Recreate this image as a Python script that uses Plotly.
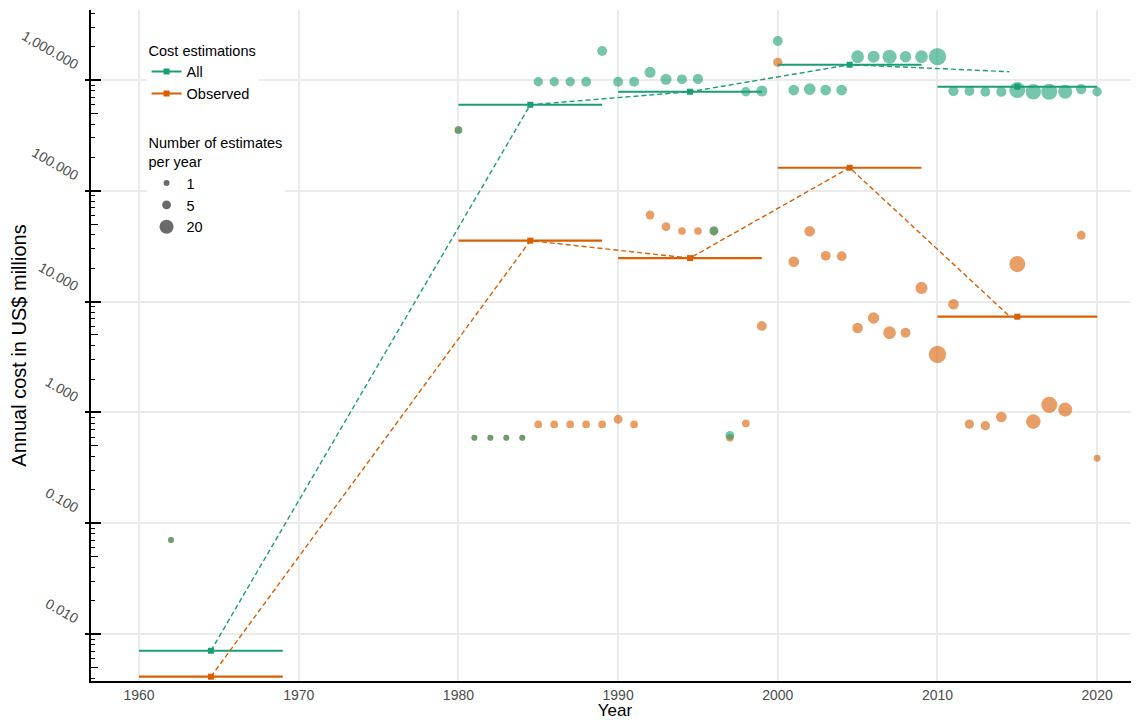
import numpy as np
import plotly.graph_objects as go

TEAL = "#1b9e77"
ORANGE = "#d95f02"
FONT = "Liberation Sans, Arial, sans-serif"

# ---- individual yearly estimates: All ----
all_years = [1962, 1980, 1981, 1982, 1983, 1984, 1985, 1986, 1987, 1988, 1989,
             1990, 1991, 1992, 1993, 1994, 1995, 1996, 1997, 1998, 1999,
             2000, 2001, 2002, 2003, 2004, 2005, 2006, 2007, 2008, 2009, 2010,
             2011, 2012, 2013, 2014, 2015, 2016, 2017, 2018, 2019, 2020]
all_cost = [0.0705, 354, 0.59, 0.59, 0.59, 0.59, 965, 965, 965, 965, 1828,
            965, 965, 1174, 1015, 1015, 1023, 43.4, 0.62, 784, 796,
            2250, 812, 829, 812, 812, 1623, 1623, 1623, 1623, 1623, 1623,
            796, 796, 784, 784, 812, 784, 784, 784, 829, 784]
all_n = [1, 3, 1, 1, 1, 1, 6, 6, 6, 7, 7,
         7, 7, 10, 10, 7, 8, 5, 5, 6, 10,
         7, 9, 12, 9, 9, 15, 13, 20, 11, 15, 34,
         8, 7, 7, 8, 28, 25, 28, 20, 8, 6]

# ---- individual yearly estimates: Observed ----
obs_years = [1962, 1980, 1981, 1982, 1983, 1984, 1985, 1986, 1987, 1988, 1989,
             1990, 1991, 1992, 1993, 1994, 1995, 1996, 1997, 1998, 1999,
             2000, 2001, 2002, 2003, 2004, 2005, 2006, 2007, 2008, 2009, 2010,
             2011, 2012, 2013, 2014, 2015, 2016, 2017, 2018, 2019, 2020]
obs_cost = [0.0705, 354, 0.59, 0.59, 0.59, 0.59, 0.78, 0.78, 0.78, 0.78, 0.78,
            0.867, 0.78, 60.5, 47.5, 43.4, 43.4, 43.4, 0.59, 0.796, 6.03,
            1445, 22.9, 43.2, 25.9, 25.7, 5.78, 7.11, 5.24, 5.24, 13.3, 3.34,
            9.46, 0.785, 0.758, 0.909, 21.8, 0.826, 1.17, 1.06, 39.7, 0.386]
obs_n = [1, 3, 1, 1, 1, 1, 3, 3, 3, 3, 3,
         5, 3, 5, 5, 3, 3, 5, 3, 3, 7,
         6, 9, 9, 7, 7, 9, 11, 15, 7, 13, 34,
         9, 6, 6, 9, 28, 22, 28, 20, 5, 2]

# ---- decade means ----
decade_start = [1960, 1980, 1990, 2000, 2010]
decade_end = [1969, 1989, 1999, 2009, 2020]
all_mean = [0.00706, 598, 784, 1374, 870]
obs_mean = [0.00412, 35.5, 24.7, 161.6, 7.31]

# ---- trend (dashed) ----
trend_years = [1964.5, 1984.5, 1994.5, 2004.5, 2014.5]
all_trend = [0.00706, 598, 784, 1374, 1189]
obs_trend = [0.00412, 35.5, 24.7, 161.6, 7.4]

# ---- axis ticks ----
year_ticks = [1960, 1970, 1980, 1990, 2000, 2010, 2020]
cost_ticks = [0.01, 0.1, 1, 10, 100, 1000]
cost_labels = ["0.010", "0.100", "1.000", "10.000", "100.000", "1,000.000"]
legend_n = [1, 5, 20]


def size_px(n):
    return 3.6 + 2.35 * np.sqrt(np.asarray(n, dtype=float))


def segments(starts, ends, vals):
    xs, ys = [], []
    for s, e, v in zip(starts, ends, vals):
        xs += [s, e, None]
        ys += [v, v, None]
    return xs, ys


fig = go.Figure()

# points (orange first, teal on top)
fig.add_trace(go.Scatter(x=obs_years, y=obs_cost, mode="markers", showlegend=False,
                         marker=dict(color=ORANGE, opacity=0.6, size=size_px(obs_n), line=dict(width=0)),
                         hoverinfo="skip"))
fig.add_trace(go.Scatter(x=all_years, y=all_cost, mode="markers", showlegend=False,
                         marker=dict(color=TEAL, opacity=0.6, size=size_px(all_n), line=dict(width=0)),
                         hoverinfo="skip"))

# decade mean segments
for vals, col in ((all_mean, TEAL), (obs_mean, ORANGE)):
    sx, sy = segments(decade_start, decade_end, vals)
    fig.add_trace(go.Scatter(x=sx, y=sy, mode="lines", showlegend=False,
                             line=dict(color=col, width=2.2), hoverinfo="skip"))

# dashed trends + squares (on overlaying axis y2, same scale)
mid = [(s + e) / 2 for s, e in zip(decade_start, decade_end)]
for vals, mvals, col in ((all_trend, all_mean, TEAL), (obs_trend, obs_mean, ORANGE)):
    fig.add_trace(go.Scatter(x=trend_years, y=vals, mode="lines", showlegend=False, yaxis="y2",
                             line=dict(color=col, width=1.4, dash="5px,3px"), hoverinfo="skip"))
    fig.add_trace(go.Scatter(x=mid, y=mvals, mode="markers", showlegend=False, yaxis="y2",
                             marker=dict(color=col, symbol="square", size=6), hoverinfo="skip"))

# legend entries
for name, col in (("All", TEAL), ("Observed", ORANGE)):
    fig.add_trace(go.Scatter(x=[None], y=[None], mode="lines+markers", name=name, legend="legend",
                             line=dict(color=col, width=2), marker=dict(color=col, symbol="square", size=6)))
for n in legend_n:
    fig.add_trace(go.Scatter(x=[None], y=[None], mode="markers", name=str(n), legend="legend2",
                             marker=dict(color="#6b6b6b", size=float(size_px(n)))))

axis_font = dict(family=FONT, size=14, color="#4d4d4d")
minor_vals = [m * 10.0 ** k for k in range(-3, 4) for m in (2, 3, 4, 6, 7, 8, 9)]
five_vals = [5 * 10.0 ** k for k in range(-3, 4)]
yrange = [-2.424, 3.632]

# page body has an 8px margin, so the figure is sized to end at the window edge
fig.update_layout(
    width=1131, height=712,
    margin=dict(l=83, r=0, t=2, b=39),
    paper_bgcolor="white", plot_bgcolor="white",
    font=dict(family=FONT, color="black"),
    xaxis=dict(range=[1956.99, 2022.62], tickvals=year_ticks, ticks="", showline=True,
               linecolor="black", linewidth=2, gridcolor="#ebebeb", gridwidth=2, zeroline=False,
               tickfont=axis_font, automargin=False,
               title=dict(text="Year", font=dict(family=FONT, size=17, color="black"), standoff=7)),
    yaxis=dict(type="log", range=yrange, tickvals=cost_ticks, ticktext=cost_labels, tickangle=30,
               ticks="outside", ticklen=4, tickwidth=1.5, tickcolor="black", showline=True,
               linecolor="black", linewidth=2, gridcolor="#ebebeb", gridwidth=2, zeroline=False,
               tickfont=axis_font, automargin=False, ticklabelshift=-14, ticklabelstandoff=4,
               minor=dict(tickvals=minor_vals, ticks="inside", ticklen=4, tickwidth=1.2,
                          tickcolor="black", showgrid=False),
               title=dict(text="Annual cost in US$ millions", font=dict(family=FONT, size=20, color="black"),
                          standoff=2)),
    yaxis2=dict(type="log", range=yrange, overlaying="y", side="left", anchor="x",
                tickvals=cost_ticks, ticks="inside", ticklen=10, tickwidth=1.5, tickcolor="black",
                showticklabels=False, showgrid=False, showline=False, zeroline=False,
                minor=dict(tickvals=five_vals, ticks="inside", ticklen=7, tickwidth=1.2,
                           tickcolor="black", showgrid=False)),
    legend=dict(x=0.053, y=0.96, xanchor="left", yanchor="top", bgcolor="white",
                font=dict(family=FONT, size=14.5, color="black"), itemwidth=30, tracegroupgap=0,
                title=dict(text="Cost estimations", font=dict(family=FONT, size=14.5, color="black"))),
    legend2=dict(x=0.053, y=0.822, xanchor="left", yanchor="top", bgcolor="white",
                 font=dict(family=FONT, size=14.5, color="black"), itemwidth=30, tracegroupgap=0,
                 title=dict(text="Number of estimates<br>per year",
                            font=dict(family=FONT, size=14.5, color="black"))),
)

fig.write_html("out.html")
